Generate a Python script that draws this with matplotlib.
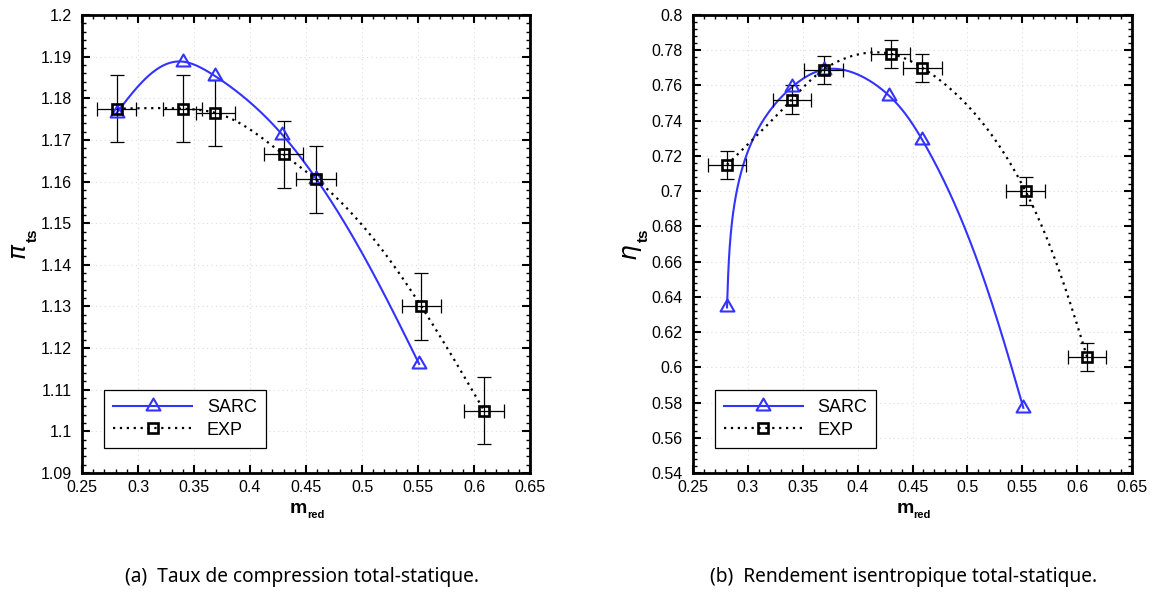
import numpy as np
import matplotlib
matplotlib.use("Agg")
import matplotlib.pyplot as plt
from matplotlib.lines import Line2D
from matplotlib.path import Path
from matplotlib.ticker import MultipleLocator, FuncFormatter

plt.rcParams["font.family"] = ["Liberation Sans", "DejaVu Sans"]

# Reduced mass flow and measured / simulated performance
m_sarc = [0.281, 0.340, 0.369, 0.429, 0.459, 0.551]
pi_sarc = [1.1765, 1.1888, 1.1853, 1.1712, 1.1607, 1.1162]
eta_sarc = [0.634, 0.759, 0.769, 0.754, 0.729, 0.577]

m_exp = [0.281, 0.340, 0.369, 0.430, 0.459, 0.553, 0.609]
pi_exp = [1.1775, 1.1775, 1.1765, 1.1665, 1.1605, 1.130, 1.105]
eta_exp = [0.715, 0.752, 0.769, 0.778, 0.770, 0.700, 0.606]

m_err = 0.0175
pi_err = 0.008
eta_err = 0.008

x_ticks = [0.25, 0.3, 0.35, 0.4, 0.45, 0.5, 0.55, 0.6, 0.65]
captions = ["(a)  Taux de compression total-statique.",
            "(b)  Rendement isentropique total-statique."]

BLUE = "#3333ff"
W, H = 1162, 593
TRI = Path([(0, 0.577), (-0.5, -0.289), (0.5, -0.289), (0, 0.577)],
           closed=True)
DOTS = (0, (1, 2.1))


def natural_spline(t, v, tt):
    n = len(t)
    h = np.diff(t)
    A = np.zeros((n, n))
    r = np.zeros(n)
    A[0, 0] = A[-1, -1] = 1.0
    for i in range(1, n - 1):
        A[i, i - 1] = h[i - 1]
        A[i, i] = 2 * (h[i - 1] + h[i])
        A[i, i + 1] = h[i]
        r[i] = 6 * ((v[i + 1] - v[i]) / h[i] - (v[i] - v[i - 1]) / h[i - 1])
    M = np.linalg.solve(A, r)
    k = np.clip(np.searchsorted(t, tt) - 1, 0, n - 2)
    hk = h[k]
    a = (t[k + 1] - tt) / hk
    b = (tt - t[k]) / hk
    return (a * v[k] + b * v[k + 1]
            + ((a ** 3 - a) * M[k] + (b ** 3 - b) * M[k + 1]) * hk ** 2 / 6)


def smooth_through(ax, x, y, wpx, hpx):
    """Parametric cubic spline through the points, chord length in pixels."""
    x = np.asarray(x, float)
    y = np.asarray(y, float)
    x0, x1 = ax.get_xlim()
    y0, y1 = ax.get_ylim()
    px = (x - x0) / (x1 - x0) * wpx
    py = (y - y0) / (y1 - y0) * hpx
    t = np.concatenate([[0], np.cumsum(np.hypot(np.diff(px), np.diff(py)))])
    tt = np.linspace(0, t[-1], 600)
    return natural_spline(t, x, tt), natural_spline(t, y, tt)


def fmt(v, _):
    return f"{round(v, 4):g}"


def fx(p):
    return p / W


def fy(p):
    return 1 - p / H


def panel(rect, ysim, yexp, yerr, ylim, ymaj, ymin, greek, caption_x, caption):
    ax = fig.add_axes([fx(rect[0]), fy(rect[3]),
                       (rect[2] - rect[0]) / W, (rect[3] - rect[1]) / H])
    wpx, hpx = rect[2] - rect[0], rect[3] - rect[1]
    ax.set_xlim(0.25, 0.65)
    ax.set_ylim(*ylim)
    ax.set_xticks(x_ticks)
    ax.xaxis.set_minor_locator(MultipleLocator(0.01))
    ax.yaxis.set_major_locator(MultipleLocator(ymaj))
    ax.yaxis.set_minor_locator(MultipleLocator(ymin))
    ax.xaxis.set_major_formatter(FuncFormatter(fmt))
    ax.yaxis.set_major_formatter(FuncFormatter(fmt))
    ax.tick_params(which="both", direction="in", top=True, right=True,
                   labelsize=11.5)
    ax.tick_params(which="major", length=6, width=1.5)
    ax.tick_params(which="minor", length=3.2, width=1.0)
    ax.tick_params(axis="x", which="major", pad=5)
    ax.tick_params(axis="y", which="major", pad=7.5)
    for s in ax.spines.values():
        s.set_linewidth(2.0)
    ax.grid(True, which="major", color="#dcdcdc", linestyle=(0, (1, 3)),
            linewidth=0.8)
    ax.set_axisbelow(True)

    sx, sy = smooth_through(ax, m_sarc, ysim, wpx, hpx)
    ax.plot(sx, sy, color=BLUE, lw=1.5, zorder=4)
    ex, ey = smooth_through(ax, m_exp, yexp, wpx, hpx)
    ax.plot(ex, ey, color="black", lw=1.6, linestyle=DOTS, zorder=4)

    ax.errorbar(m_exp, yexp, xerr=m_err, yerr=yerr, fmt="none",
                ecolor="black", elinewidth=0.9, capsize=5, capthick=0.9,
                zorder=5)
    ax.plot(m_sarc, ysim, linestyle="none", marker=TRI, ms=11.5,
            mfc="none", mec=BLUE, mew=1.5, zorder=6)
    ax.plot(m_exp, yexp, linestyle="none", marker="s", ms=6.5,
            mfc="none", mec="black", mew=1.9, zorder=6)

    handles = [
        Line2D([], [], color=BLUE, lw=1.5, marker=TRI, ms=11.5, mfc="none",
               mec=BLUE, mew=1.5),
        Line2D([], [], color="black", lw=1.6, linestyle=DOTS,
               marker="s", ms=6.5, mfc="none", mec="black", mew=1.9),
    ]
    leg = ax.legend(handles, ["SARC", "EXP"], loc="lower left",
                    bbox_to_anchor=(0.049, 0.055), borderaxespad=0,
                    fancybox=False, edgecolor="black", framealpha=1,
                    handlelength=4.4, handletextpad=0.8, borderpad=0.5,
                    labelspacing=0.3, numpoints=1, fontsize=13)
    leg.get_frame().set_linewidth(0.9)

    # axis titles with small bold subscripts
    cx = (rect[0] + rect[2]) / 2
    fig.text(fx(cx + 1), fy(513), "m", ha="right", va="baseline",
             fontsize=14, fontweight="bold")
    fig.text(fx(cx + 1), fy(518), "red", ha="left", va="baseline",
             fontsize=8, fontweight="bold")
    gx = rect[0] - 57
    fig.text(fx(gx), fy(251), greek, rotation=90, rotation_mode="anchor",
             ha="center", va="baseline", fontsize=18,
             family="DejaVu Sans", style="italic")
    fig.text(fx(gx + 12), fy(235.5), "ts", rotation=90,
             rotation_mode="anchor", ha="center", va="baseline",
             fontsize=11, fontweight="bold")

    fig.text(fx(caption_x), fy(577), caption, ha="center", va="center",
             fontsize=13.8, family="Noto Sans")
    return ax


fig = plt.figure(figsize=(W / 100, H / 100), dpi=100)
panel((82, 15, 530, 473), pi_sarc, pi_exp, pi_err, (1.09, 1.2), 0.01, 0.002,
      "\u03c0", 302, captions[0])
panel((693, 15, 1132, 473), eta_sarc, eta_exp, eta_err, (0.54, 0.8), 0.02,
      0.004, "\u03b7", 904, captions[1])
fig.savefig("out.png", dpi=100)
